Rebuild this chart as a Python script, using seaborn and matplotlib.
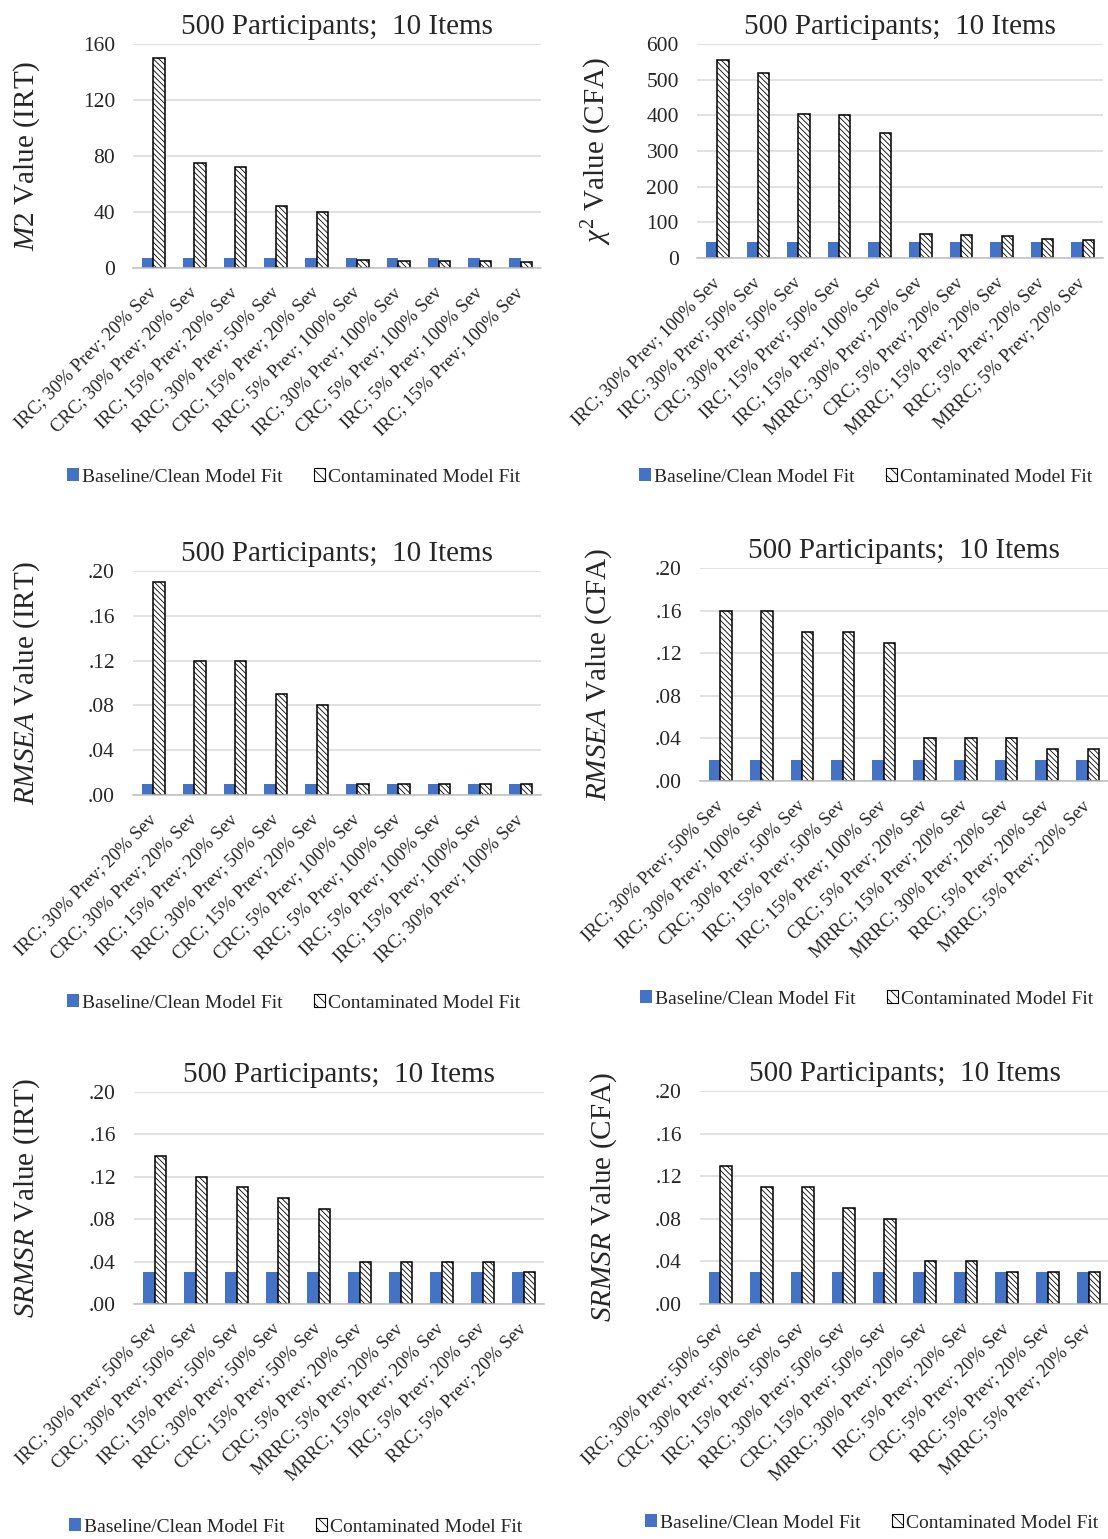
import pandas as pd
import matplotlib
matplotlib.use('Agg')
import matplotlib.pyplot as plt
from matplotlib.patches import Patch
from matplotlib.ticker import FuncFormatter
import seaborn as sns

# valores
fits = ['Baseline/Clean Model Fit', 'Contaminated Model Fit']

m2_labels = ['IRC; 30% Prev; 20% Sev', 'CRC; 30% Prev; 20% Sev', 'IRC; 15% Prev; 20% Sev',
             'RRC; 30% Prev; 50% Sev', 'CRC; 15% Prev; 20% Sev', 'RRC; 5% Prev; 100% Sev',
             'IRC; 30% Prev; 100% Sev', 'CRC; 5% Prev; 100% Sev', 'IRC; 5% Prev; 100% Sev',
             'IRC; 15% Prev; 100% Sev']
m2_clean = [7, 7, 7, 7, 7, 7, 7, 7, 7, 7]
m2_cont = [150, 75, 72, 44, 40, 6, 5, 5, 5, 4]

chi_labels = ['IRC; 30% Prev; 100% Sev', 'IRC; 30% Prev; 50% Sev', 'CRC; 30% Prev; 50% Sev',
              'IRC; 15% Prev; 50% Sev', 'IRC; 15% Prev; 100% Sev', 'MRRC; 30% Prev; 20% Sev',
              'CRC; 5% Prev; 20% Sev', 'MRRC; 15% Prev; 20% Sev', 'RRC; 5% Prev; 20% Sev',
              'MRRC; 5% Prev; 20% Sev']
chi_clean = [44, 44, 44, 44, 44, 44, 44, 44, 44, 44]
chi_cont = [555, 520, 405, 400, 350, 68, 65, 62, 54, 50]

rmsea_irt_labels = ['IRC; 30% Prev; 20% Sev', 'CRC; 30% Prev; 20% Sev', 'IRC; 15% Prev; 20% Sev',
                    'RRC; 30% Prev; 50% Sev', 'CRC; 15% Prev; 20% Sev', 'CRC; 5% Prev; 100% Sev',
                    'RRC; 5% Prev; 100% Sev', 'IRC; 5% Prev; 100% Sev', 'IRC; 15% Prev; 100% Sev',
                    'IRC; 30% Prev; 100% Sev']
rmsea_irt_clean = [.01] * 10
rmsea_irt_cont = [.19, .12, .12, .09, .08, .01, .01, .01, .01, .01]

rmsea_cfa_labels = ['IRC; 30% Prev; 50% Sev', 'IRC; 30% Prev; 100% Sev', 'CRC; 30% Prev; 50% Sev',
                    'IRC; 15% Prev; 50% Sev', 'IRC; 15% Prev; 100% Sev', 'CRC; 5% Prev; 20% Sev',
                    'MRRC; 15% Prev; 20% Sev', 'MRRC; 30% Prev; 20% Sev', 'RRC; 5% Prev; 20% Sev',
                    'MRRC; 5% Prev; 20% Sev']
rmsea_cfa_clean = [.02] * 10
rmsea_cfa_cont = [.16, .16, .14, .14, .13, .04, .04, .04, .03, .03]

srmsr_irt_labels = ['IRC; 30% Prev; 50% Sev', 'CRC; 30% Prev; 50% Sev', 'IRC; 15% Prev; 50% Sev',
                    'RRC; 30% Prev; 50% Sev', 'CRC; 15% Prev; 50% Sev', 'CRC; 5% Prev; 20% Sev',
                    'MRRC; 5% Prev; 20% Sev', 'MRRC; 15% Prev; 20% Sev', 'IRC; 5% Prev; 20% Sev',
                    'RRC; 5% Prev; 20% Sev']
srmsr_irt_clean = [.03] * 10
srmsr_irt_cont = [.14, .12, .11, .10, .09, .04, .04, .04, .04, .03]

srmsr_cfa_labels = ['IRC; 30% Prev; 50% Sev', 'CRC; 30% Prev; 50% Sev', 'IRC; 15% Prev; 50% Sev',
                    'RRC; 30% Prev; 50% Sev', 'CRC; 15% Prev; 50% Sev', 'MRRC; 30% Prev; 20% Sev',
                    'IRC; 5% Prev; 20% Sev', 'CRC; 5% Prev; 20% Sev', 'RRC; 5% Prev; 20% Sev',
                    'MRRC; 5% Prev; 20% Sev']
srmsr_cfa_clean = [.03] * 10
srmsr_cfa_cont = [.13, .11, .11, .09, .08, .04, .04, .03, .03, .03]

sns.set_style('white')
plt.rcParams['font.family'] = ['Liberation Serif', 'DejaVu Serif']
plt.rcParams['mathtext.fontset'] = 'custom'
plt.rcParams['mathtext.rm'] = 'Liberation Serif'
plt.rcParams['mathtext.it'] = 'Liberation Serif:italic'
plt.rcParams['hatch.linewidth'] = 0.6

W, H = 1108, 1539
fig = plt.figure(figsize=(W / 100, H / 100), dpi=100)

azul = '#4472C4'
grade = '#d9d9d9'

# (rotulos, limpo, contaminado, ylabel, ymax, passo, caixa em pixels, legenda (x, y), ylabel x)
paineis = [
    (m2_labels, m2_clean, m2_cont, r'$\mathit{M2}$ Value (IRT)', 160, 40,
     (133, 44, 541, 268), (294, 477), 42),
    (chi_labels, chi_clean, chi_cont, r'$\chi^2$ Value (CFA)', 600, 100,
     (697, 44, 1103, 258), (866, 477), 614),
    (rmsea_irt_labels, rmsea_irt_clean, rmsea_irt_cont, r'$\mathit{RMSEA}$ Value (IRT)', .20, .04,
     (133, 571, 541, 795), (294, 1003), 42),
    (rmsea_cfa_labels, rmsea_cfa_clean, rmsea_cfa_cont, r'$\mathit{RMSEA}$ Value (CFA)', .20, .04,
     (700, 568, 1108, 781), (867, 999), 614),
    (srmsr_irt_labels, srmsr_irt_clean, srmsr_irt_cont, r'$\mathit{SRMSR}$ Value (IRT)', .20, .04,
     (134, 1092, 544, 1304), (296, 1527), 42),
    (srmsr_cfa_labels, srmsr_cfa_clean, srmsr_cfa_cont, r'$\mathit{SRMSR}$ Value (CFA)', .20, .04,
     (700, 1091, 1109, 1304), (872, 1523), 619),
]

for labels, clean, cont, ylab, ymax, passo, box, leg, ylab_x in paineis:
    x0, y0, x1, y1 = box
    ax = fig.add_axes([x0 / W, 1 - y1 / H, (x1 - x0) / W, (y1 - y0) / H])

    dados = pd.DataFrame({
        'cond': labels * 2,
        'valor': clean + cont,
        'fit': [fits[0]] * len(labels) + [fits[1]] * len(labels),
    })
    sns.barplot(data=dados, x='cond', y='valor', hue='fit', order=labels, hue_order=fits,
                palette={fits[0]: azul, fits[1]: 'white'}, saturation=1, width=0.56,
                legend=False, ax=ax)

    for barra in ax.containers[1]:
        barra.set_hatch('\\\\\\\\\\\\')
        barra.set_edgecolor('black')
        barra.set_linewidth(1.1)
    for barra in ax.containers[0]:
        barra.set_linewidth(0)

    ax.set_ylim(0, ymax)
    ax.set_xlim(-0.5, len(labels) - 0.5)
    ticks = [i * passo for i in range(int(round(ymax / passo)) + 1)]
    ax.set_yticks(ticks)
    if ymax < 1:
        ax.yaxis.set_major_formatter(FuncFormatter(lambda v, p: f'{v:.2f}'.lstrip('0')))
    ax.grid(axis='y', color=grade, linewidth=1.1)
    ax.set_axisbelow(True)
    for lado in ['top', 'right', 'left']:
        ax.spines[lado].set_visible(False)
    ax.spines['bottom'].set_color('#bfbfbf')
    ax.spines['bottom'].set_linewidth(1.1)
    ax.tick_params(axis='both', length=0)
    ax.tick_params(axis='y', labelsize=15.5, pad=13)
    ax.tick_params(axis='x', labelsize=13.5, pad=16)
    for t in ax.get_xticklabels():
        t.set_rotation(45)
        t.set_ha('right')
        t.set_va('center')
        t.set_rotation_mode('anchor')

    ax.set_xlabel('')
    ax.set_ylabel(ylab, fontsize=21)
    ax.yaxis.set_label_coords((ylab_x - x0) / (x1 - x0), 0.5)
    ax.set_title('500 Participants;  10 Items', fontsize=21, pad=7)

    handles = [Patch(facecolor=azul, edgecolor='none', label=fits[0]),
               Patch(facecolor='white', edgecolor='black', hatch='\\\\\\', linewidth=0.8, label=fits[1])]
    ax.legend(handles=handles, loc='center', ncol=2, frameon=False, fontsize=14,
              bbox_to_anchor=(leg[0] / W, 1 - leg[1] / H), bbox_transform=fig.transFigure,
              handlelength=0.6, handleheight=0.6, handletextpad=0.15, columnspacing=1.6)

fig.savefig('out.png', dpi=100)
